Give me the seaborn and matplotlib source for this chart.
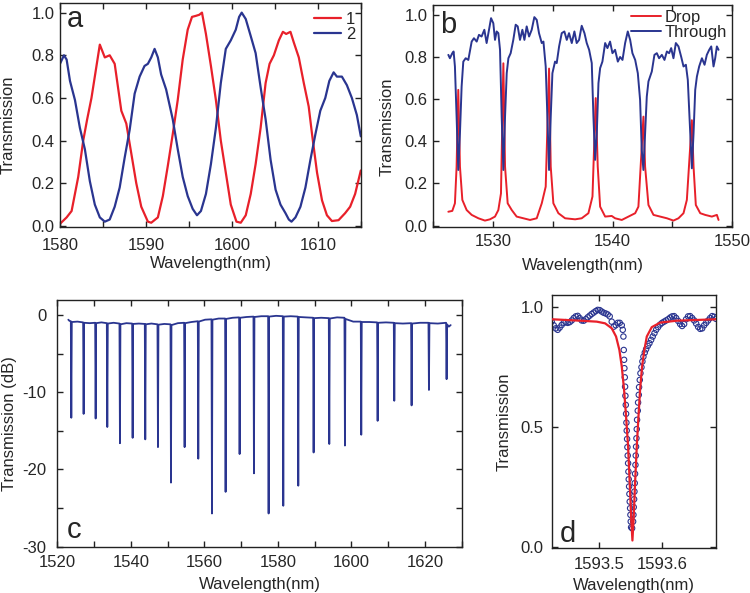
import numpy as np
import pandas as pd
import matplotlib
matplotlib.use("Agg")
import matplotlib.pyplot as plt
from matplotlib.ticker import MultipleLocator, FixedLocator, FormatStrFormatter
import seaborn as sns

# ---------------- data ----------------
# panel a
wl_a_red = [1580.0, 1580.77, 1581.35, 1582.12, 1582.70, 1583.16, 1583.66, 1584.63, 1585.21, 1585.78,
            1586.36, 1587.13, 1587.71, 1588.29, 1588.87, 1589.45, 1590.22, 1590.61, 1591.38, 1591.96,
            1592.53, 1593.11, 1593.69, 1594.27, 1594.85, 1595.35, 1595.81, 1596.20, 1596.51, 1596.97,
            1597.55, 1598.13, 1598.70, 1599.28, 1599.86, 1600.52, 1601.02, 1601.60, 1602.18, 1602.75,
            1603.33, 1603.91, 1604.37, 1604.87, 1605.45, 1605.92, 1606.30, 1606.80, 1607.19, 1607.77,
            1608.35, 1608.92, 1609.31, 1609.89, 1610.47, 1611.04, 1611.62, 1612.39, 1613.16, 1613.74,
            1614.32, 1614.98]
t_a_red = [0.01, 0.04, 0.07, 0.23, 0.40, 0.50, 0.60, 0.85, 0.79, 0.80,
           0.76, 0.54, 0.48, 0.34, 0.20, 0.09, 0.02, 0.015, 0.04, 0.14,
           0.28, 0.43, 0.59, 0.78, 0.92, 0.98, 0.985, 0.99, 1.0, 0.90,
           0.75, 0.59, 0.40, 0.25, 0.10, 0.02, 0.015, 0.05, 0.15, 0.29,
           0.46, 0.67, 0.76, 0.80, 0.87, 0.91, 0.90, 0.91, 0.86, 0.79,
           0.67, 0.56, 0.43, 0.25, 0.12, 0.05, 0.023, 0.027, 0.06, 0.09,
           0.15, 0.26]
wl_a_blue = [1580.0, 1580.46, 1580.77, 1581.16, 1581.74, 1582.31, 1582.89, 1583.47, 1584.05, 1584.63,
             1585.21, 1585.78, 1586.36, 1586.94, 1587.52, 1588.10, 1588.68, 1589.26, 1589.83, 1590.22,
             1590.61, 1591.0, 1591.38, 1591.76, 1592.34, 1593.11, 1593.69, 1594.27, 1594.85, 1595.43,
             1595.93, 1596.39, 1596.97, 1597.55, 1598.13, 1598.70, 1599.28, 1599.86, 1600.44, 1600.83,
             1601.13, 1601.60, 1602.18, 1602.75, 1603.33, 1603.91, 1604.49, 1605.07, 1605.64, 1606.22,
             1606.61, 1606.92, 1607.38, 1607.96, 1608.54, 1609.12, 1609.70, 1610.27, 1610.85, 1611.32,
             1611.82, 1612.20, 1612.78, 1613.36, 1613.94, 1614.52, 1614.98]
t_a_blue = [0.76, 0.80, 0.78, 0.68, 0.59, 0.46, 0.36, 0.21, 0.10, 0.04,
            0.02, 0.03, 0.09, 0.18, 0.32, 0.45, 0.62, 0.70, 0.75, 0.76,
            0.79, 0.83, 0.79, 0.71, 0.64, 0.50, 0.36, 0.23, 0.14, 0.08,
            0.05, 0.07, 0.15, 0.29, 0.46, 0.67, 0.83, 0.87, 0.92, 0.98,
            1.0, 0.97, 0.89, 0.81, 0.65, 0.50, 0.31, 0.17, 0.10, 0.06,
            0.03, 0.02, 0.04, 0.09, 0.18, 0.31, 0.43, 0.54, 0.60, 0.68,
            0.72, 0.70, 0.70, 0.66, 0.60, 0.52, 0.42]

# panel b
wl_b_drop = [1526.26, 1526.59, 1526.81, 1526.95, 1527.09, 1527.23, 1527.43, 1527.79, 1528.21, 1528.77,
             1529.32, 1529.74, 1530.16, 1530.44, 1530.66, 1530.86, 1531.00, 1531.22, 1531.56, 1531.97,
             1532.53, 1533.09, 1533.65, 1534.07, 1534.40, 1534.68, 1534.82, 1535.04, 1535.46, 1536.02,
             1536.86, 1537.41, 1537.97, 1538.31, 1538.58, 1538.75, 1538.95, 1539.37, 1539.92, 1540.20,
             1540.76, 1541.32, 1541.88, 1542.15, 1542.57, 1542.71, 1542.99, 1543.41, 1543.97, 1544.53,
             1545.08, 1545.50, 1545.92, 1546.20, 1546.62, 1546.76, 1546.95, 1547.32, 1547.73, 1548.29,
             1548.71, 1548.85]
t_b_drop = [0.066, 0.07, 0.106, 0.28, 0.644, 0.28, 0.122, 0.074, 0.051, 0.035,
            0.024, 0.03, 0.043, 0.074, 0.153, 0.77, 0.28, 0.106, 0.074, 0.043,
            0.035, 0.027, 0.035, 0.106, 0.185, 0.745, 0.28, 0.106, 0.059, 0.035,
            0.03, 0.035, 0.059, 0.138, 0.605, 0.28, 0.09, 0.043, 0.046, 0.035,
            0.027, 0.043, 0.059, 0.09, 0.517, 0.28, 0.098, 0.051, 0.043, 0.035,
            0.024, 0.035, 0.059, 0.122, 0.50, 0.28, 0.098, 0.059, 0.051, 0.043,
            0.051, 0.027]
wl_b_thr = [1526.26, 1526.39, 1526.59, 1526.70, 1526.81, 1526.95, 1527.09, 1527.23, 1527.37, 1527.51,
            1527.71, 1527.93, 1528.21, 1528.40, 1528.63, 1528.82, 1529.04, 1529.27, 1529.46, 1529.66,
            1529.83, 1530.02, 1530.16, 1530.30, 1530.44, 1530.58, 1530.72, 1530.86, 1531.00, 1531.14,
            1531.28, 1531.47, 1531.69, 1531.89, 1532.06, 1532.25, 1532.45, 1532.62, 1532.81, 1533.01,
            1533.23, 1533.45, 1533.65, 1533.84, 1534.07, 1534.21, 1534.40, 1534.54, 1534.68, 1534.82,
            1534.96, 1535.18, 1535.32, 1535.52, 1535.74, 1535.96, 1536.16, 1536.35, 1536.58, 1536.80,
            1536.99, 1537.19, 1537.41, 1537.64, 1537.83, 1538.03, 1538.25, 1538.39, 1538.53, 1538.67,
            1538.81, 1538.95, 1539.14, 1539.37, 1539.56, 1539.78, 1539.98, 1540.20, 1540.43, 1540.62,
            1540.82, 1541.04, 1541.26, 1541.46, 1541.65, 1541.88, 1542.10, 1542.29, 1542.43, 1542.57,
            1542.71, 1542.85, 1542.99, 1543.27, 1543.49, 1543.69, 1543.88, 1544.11, 1544.33, 1544.53,
            1544.72, 1544.89, 1545.08, 1545.28, 1545.50, 1545.73, 1545.92, 1546.12, 1546.28, 1546.42,
            1546.62, 1546.76, 1546.90, 1547.04, 1547.23, 1547.46, 1547.68, 1547.87, 1548.07, 1548.24,
            1548.43, 1548.57, 1548.71, 1548.85]
t_b_thr = [0.81, 0.794, 0.818, 0.826, 0.755, 0.517, 0.264, 0.438, 0.66, 0.778,
           0.794, 0.786, 0.873, 0.889, 0.873, 0.905, 0.897, 0.929, 0.866, 0.929,
           0.984, 0.96, 0.881, 0.921, 0.913, 0.834, 0.517, 0.264, 0.517, 0.723,
           0.794, 0.818, 0.881, 0.953, 0.945, 0.881, 0.929, 0.881, 0.945, 0.897,
           0.929, 0.989, 0.976, 0.913, 0.866, 0.873, 0.755, 0.517, 0.264, 0.517,
           0.723, 0.778, 0.771, 0.85, 0.913, 0.921, 0.881, 0.913, 0.866, 0.921,
           0.866, 0.881, 0.948, 0.913, 0.866, 0.834, 0.771, 0.517, 0.312, 0.438,
           0.676, 0.747, 0.778, 0.866, 0.842, 0.873, 0.818, 0.834, 0.778, 0.80,
           0.786, 0.866, 0.921, 0.881, 0.818, 0.786, 0.723, 0.597, 0.359, 0.264,
           0.438, 0.612, 0.684, 0.731, 0.81, 0.818, 0.794, 0.81, 0.786, 0.826,
           0.818, 0.842, 0.794, 0.866, 0.85, 0.80, 0.755, 0.763, 0.691, 0.517,
           0.272, 0.438, 0.644, 0.707, 0.755, 0.794, 0.763, 0.81, 0.834, 0.85,
           0.755, 0.794, 0.85, 0.834]

# panel c (dB spectrum: baseline points and resonance dips)
wl_c = [1523.0, 1523.3, 1523.68, 1523.81, 1523.94, 1525.5, 1527.03, 1527.16, 1527.29, 1528.8,
        1530.30, 1530.43, 1530.56, 1532.0, 1533.47, 1533.60, 1533.73, 1535.3, 1536.91, 1537.04,
        1537.17, 1538.8, 1540.36, 1540.49, 1540.62, 1542.2, 1543.80, 1543.93, 1544.06, 1545.6,
        1547.25, 1547.38, 1547.51, 1549.1, 1550.79, 1550.92, 1551.05, 1552.8, 1554.50, 1554.63,
        1554.76, 1556.5, 1558.22, 1558.35, 1558.48, 1560.2, 1561.94, 1562.07, 1562.20, 1563.9,
        1565.65, 1565.78, 1565.91, 1567.7, 1569.46, 1569.59, 1569.72, 1571.5, 1573.36, 1573.49,
        1573.62, 1575.5, 1577.35, 1577.48, 1577.61, 1579.5, 1581.34, 1581.47, 1581.60, 1583.5,
        1585.42, 1585.55, 1585.68, 1587.6, 1589.59, 1589.72, 1589.85, 1591.8, 1593.85, 1593.98,
        1594.11, 1596.1, 1598.11, 1598.24, 1598.37, 1600.5, 1602.55, 1602.68, 1602.81, 1604.9,
        1607.00, 1607.13, 1607.26, 1609.4, 1611.53, 1611.66, 1611.79, 1614.0, 1616.24, 1616.37,
        1616.50, 1618.7, 1620.96, 1621.09, 1621.22, 1623.5, 1625.76, 1625.89, 1626.02, 1626.5,
        1627.0]
db_c = [-0.6, -0.75, -0.8, -13.3, -0.9, -0.85, -0.95, -12.8, -1.0, -1.05,
        -1.0, -13.4, -1.05, -0.95, -1.05, -14.5, -1.1, -1.0, -1.1, -16.6,
        -1.2, -1.05, -1.1, -15.9, -1.15, -1.1, -1.15, -16.1, -1.2, -1.1,
        -1.2, -17.1, -1.25, -1.15, -1.2, -21.7, -1.3, -1.05, -1.0, -17.1,
        -1.05, -0.9, -0.8, -18.6, -0.85, -0.6, -0.55, -25.7, -0.6, -0.45,
        -0.45, -22.9, -0.5, -0.35, -0.3, -18.0, -0.35, -0.25, -0.2, -20.5,
        -0.25, -0.15, -0.15, -25.7, -0.2, -0.1, -0.15, -24.7, -0.2, -0.15,
        -0.2, -22.1, -0.25, -0.3, -0.35, -17.8, -0.4, -0.35, -0.4, -16.7,
        -0.45, -0.3, -0.35, -16.9, -0.5, -0.85, -0.85, -15.5, -0.9, -0.9,
        -0.95, -13.7, -1.0, -0.95, -1.0, -11.1, -1.05, -1.1, -1.05, -11.7,
        -1.1, -1.0, -1.0, -9.7, -1.05, -1.1, -1.0, -8.3, -1.2, -1.5,
        -1.3]

# panel d: measured points (circles) and Lorentzian fit (line)
wl_d_meas = [1593.4245, 1593.4277, 1593.4309, 1593.4340, 1593.4372, 1593.4404, 1593.4436, 1593.4468,
             1593.4500, 1593.4532, 1593.4564, 1593.4596, 1593.4628, 1593.4660, 1593.4691, 1593.4723,
             1593.4755, 1593.4787, 1593.4819, 1593.4851, 1593.4883, 1593.4915, 1593.4947, 1593.4979,
             1593.5011, 1593.5043, 1593.5074, 1593.5106, 1593.5138, 1593.5170, 1593.5202, 1593.5234,
             1593.5266, 1593.5298, 1593.5330, 1593.5362,
             1593.5378, 1593.5388, 1593.5394, 1593.5399, 1593.5404, 1593.5410, 1593.5415, 1593.5420,
             1593.5426, 1593.5431, 1593.5436, 1593.5441, 1593.5447, 1593.5452, 1593.5457, 1593.5463,
             1593.5468, 1593.5473, 1593.5479, 1593.5484, 1593.5489, 1593.5495, 1593.5500, 1593.5505,
             1593.5511, 1593.5527, 1593.5543, 1593.5548, 1593.5553, 1593.5559, 1593.5564, 1593.5569,
             1593.5574, 1593.5580, 1593.5585, 1593.5590, 1593.5596, 1593.5601, 1593.5606, 1593.5617,
             1593.5622, 1593.5633, 1593.5638, 1593.5649, 1593.5660, 1593.5676, 1593.5691, 1593.5707,
             1593.5729, 1593.5750, 1593.5777, 1593.5803, 1593.5830, 1593.5856, 1593.5883, 1593.5910,
             1593.5941,
             1593.5973, 1593.6005, 1593.6037, 1593.6069, 1593.6101, 1593.6133, 1593.6165, 1593.6197,
             1593.6229, 1593.6261, 1593.6293, 1593.6324, 1593.6356, 1593.6388, 1593.6420, 1593.6452,
             1593.6484, 1593.6516, 1593.6548, 1593.6580, 1593.6612, 1593.6644, 1593.6676, 1593.6707,
             1593.6739, 1593.6771, 1593.6803, 1593.6835, 1593.6862]
t_d_meas = [0.940, 0.925, 0.912, 0.906, 0.915, 0.926, 0.935, 0.938,
            0.935, 0.938, 0.945, 0.955, 0.962, 0.964, 0.955, 0.945,
            0.944, 0.950, 0.958, 0.965, 0.972, 0.978, 0.984, 0.989,
            0.988, 0.982, 0.977, 0.974, 0.970, 0.962, 0.940, 0.919,
            0.925, 0.935, 0.935, 0.925,
            0.906, 0.878, 0.822, 0.781, 0.746, 0.708, 0.669, 0.631,
            0.593, 0.556, 0.519, 0.486, 0.451, 0.417, 0.382, 0.350,
            0.315, 0.283, 0.253, 0.222, 0.190, 0.1625, 0.135, 0.107,
            0.083, 0.079, 0.107, 0.135, 0.167, 0.200, 0.232, 0.267,
            0.306, 0.343, 0.382, 0.419, 0.454, 0.492, 0.531, 0.569,
            0.603, 0.635, 0.667, 0.697, 0.725, 0.750, 0.774, 0.794,
            0.811, 0.825, 0.839, 0.850, 0.864, 0.878, 0.892, 0.906,
            0.917,
            0.928, 0.935, 0.940, 0.945, 0.950, 0.957, 0.962, 0.963,
            0.955, 0.943, 0.930, 0.922, 0.930, 0.950, 0.962, 0.963,
            0.955, 0.945, 0.932, 0.918, 0.910, 0.912, 0.925, 0.935,
            0.945, 0.955, 0.963, 0.960, 0.952]
wl_d_fit = [1593.4245, 1593.4697, 1593.4963, 1593.5096, 1593.5202, 1593.5271, 1593.5324, 1593.5362,
            1593.5399, 1593.5431, 1593.5463, 1593.5489, 1593.5511, 1593.5532, 1593.5553, 1593.5574,
            1593.5601, 1593.5628, 1593.5654, 1593.5686, 1593.5718, 1593.5761, 1593.5840, 1593.5973,
            1593.6239, 1593.6559, 1593.6862]
t_d_fit = [0.950, 0.944, 0.940, 0.933, 0.9125, 0.878, 0.822, 0.753,
           0.656, 0.544, 0.419, 0.267, 0.128, 0.028, 0.128, 0.267,
           0.419, 0.544, 0.656, 0.753, 0.815, 0.878, 0.917, 0.936,
           0.944, 0.947, 0.950]

# ---------------- style ----------------
RED = "#E8202A"
BLUE = "#2A3590"
sns.set_style("ticks")
plt.rcParams["font.family"] = ["Liberation Sans", "DejaVu Sans"]
plt.rcParams["axes.unicode_minus"] = False
plt.rcParams["font.size"] = 12
FS = 12
LFS = 21

fig = plt.figure(figsize=(7.5, 5.93), dpi=100)
ax_a = fig.add_axes([0.0800, 0.6172, 0.4013, 0.3777])
ax_b = fig.add_axes([0.5777, 0.6177, 0.3987, 0.3744])
ax_c = fig.add_axes([0.0764, 0.0781, 0.5392, 0.4160])
ax_d = fig.add_axes([0.7356, 0.0764, 0.2187, 0.4261])


def style(ax, xpad, ypad, xlabelpad):
    for s in ax.spines.values():
        s.set_linewidth(1.0)
        s.set_color("#222222")
        s.set_visible(True)
    ax.tick_params(which="both", direction="in", top=True, right=True,
                   length=4, width=1, color="#222222", labelsize=FS)
    ax.tick_params(axis="x", which="both", pad=xpad)
    ax.tick_params(axis="y", which="both", pad=ypad)
    ax.set_xlabel("Wavelength(nm)", fontsize=FS, labelpad=xlabelpad)


# panel a
df_a1 = pd.DataFrame({"wl": wl_a_red, "t": t_a_red})
df_a2 = pd.DataFrame({"wl": wl_a_blue, "t": t_a_blue})
sns.lineplot(data=df_a1, x="wl", y="t", ax=ax_a, color=RED, lw=1.6, label="1", estimator=None)
sns.lineplot(data=df_a2, x="wl", y="t", ax=ax_a, color=BLUE, lw=1.6, label="2", estimator=None)
ax_a.set_xlim(1580, 1615)
ax_a.set_ylim(-0.005, 1.045)
ax_a.xaxis.set_major_locator(MultipleLocator(10))
ax_a.xaxis.set_minor_locator(MultipleLocator(5))
ax_a.yaxis.set_major_locator(MultipleLocator(0.2))
ax_a.yaxis.set_major_formatter(FormatStrFormatter("%.1f"))
style(ax_a, 8, 4, 2)
ax_a.set_ylabel("Transmission", fontsize=FS)
ax_a.yaxis.set_label_coords(-0.148, 0.455)
ax_a.legend(loc="upper right", bbox_to_anchor=(1.02, 1.012), frameon=False, fontsize=FS,
            handlelength=1.6, handletextpad=0.3, labelspacing=0.0, borderpad=0.2)
ax_a.text(0.023, 0.893, "a", transform=ax_a.transAxes, fontsize=LFS, va="baseline", ha="left")

# panel b
df_b1 = pd.DataFrame({"wl": wl_b_drop, "t": t_b_drop})
df_b2 = pd.DataFrame({"wl": wl_b_thr, "t": t_b_thr})
sns.lineplot(data=df_b1, x="wl", y="t", ax=ax_b, color=RED, lw=1.4, label="Drop", estimator=None)
sns.lineplot(data=df_b2, x="wl", y="t", ax=ax_b, color=BLUE, lw=1.4, label="Through", estimator=None)
ax_b.set_xlim(1525, 1550)
ax_b.set_ylim(-0.005, 1.048)
ax_b.xaxis.set_major_locator(MultipleLocator(10))
ax_b.xaxis.set_minor_locator(MultipleLocator(5))
ax_b.yaxis.set_major_locator(MultipleLocator(0.2))
ax_b.yaxis.set_major_formatter(FormatStrFormatter("%.1f"))
style(ax_b, 5.5, 4, 6)
ax_b.set_ylabel("Transmission", fontsize=FS)
ax_b.yaxis.set_label_coords(-0.128, 0.45)
ax_b.legend(loc="upper right", bbox_to_anchor=(1.02, 1.03), frameon=False, fontsize=FS,
            handlelength=1.8, handletextpad=0.2, labelspacing=0.0, borderpad=0.2)
ax_b.text(0.022, 0.873, "b", transform=ax_b.transAxes, fontsize=LFS, va="baseline", ha="left")

# panel c
df_c = pd.DataFrame({"wl": wl_c, "db": db_c})
sns.lineplot(data=df_c, x="wl", y="db", ax=ax_c, color=BLUE, lw=1.3, estimator=None)
ax_c.set_xlim(1520, 1630)
ax_c.set_ylim(-30, 1.95)
ax_c.xaxis.set_major_locator(MultipleLocator(20))
ax_c.xaxis.set_minor_locator(MultipleLocator(10))
ax_c.yaxis.set_major_locator(MultipleLocator(10))
ax_c.yaxis.set_minor_locator(MultipleLocator(5))
style(ax_c, 6, 8, 5)
ax_c.set_ylabel("Transmission (dB)", fontsize=FS, labelpad=4)
ax_c.text(0.023, 0.034, "c", transform=ax_c.transAxes, fontsize=LFS, va="baseline", ha="left")

# panel d
df_dm = pd.DataFrame({"wl": wl_d_meas, "t": t_d_meas})
df_df = pd.DataFrame({"wl": wl_d_fit, "t": t_d_fit})
sns.scatterplot(data=df_dm, x="wl", y="t", ax=ax_d, marker="o", s=15,
                facecolors="none", edgecolor=BLUE, linewidth=0.8, zorder=2)
sns.lineplot(data=df_df, x="wl", y="t", ax=ax_d, color=RED, lw=1.6, estimator=None, zorder=3)
ax_d.set_xlim(1593.4245, 1593.686)
ax_d.set_ylim(-0.002, 1.051)
ax_d.xaxis.set_major_locator(FixedLocator([1593.5, 1593.6]))
ax_d.yaxis.set_major_locator(MultipleLocator(0.5))
ax_d.yaxis.set_major_formatter(FormatStrFormatter("%.1f"))
ax_d.xaxis.set_major_formatter(FormatStrFormatter("%.1f"))
style(ax_d, 7, 6, 4)
ax_d.set_ylabel("Transmission", fontsize=FS, labelpad=6)
ax_d.text(0.05, 0.024, "d", transform=ax_d.transAxes, fontsize=LFS, va="baseline", ha="left")

fig.savefig("out.png", dpi=100)
